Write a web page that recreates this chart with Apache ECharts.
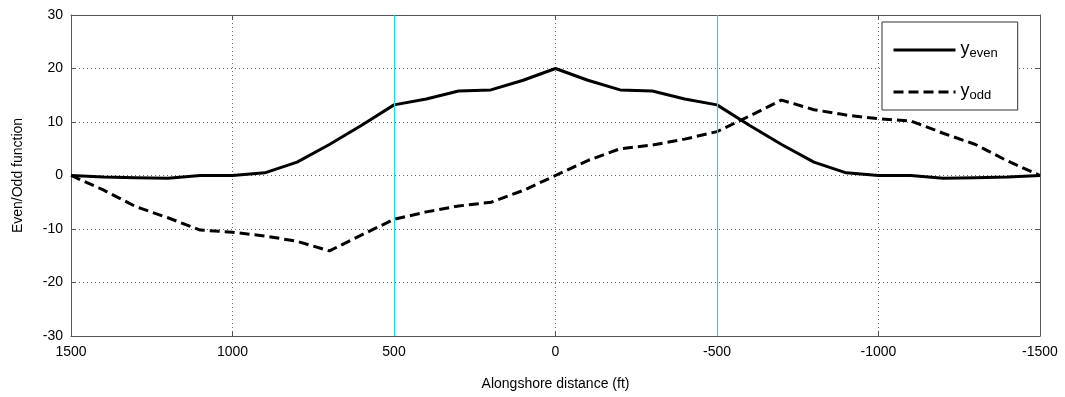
<!DOCTYPE html>
<html>
<head>
<meta charset="utf-8">
<script src="https://cdn.jsdelivr.net/npm/echarts@6/dist/echarts.min.js"></script>
<style>
  html, body { margin: 0; padding: 0; background: #fff; }
  #chart { width: 1065px; height: 397px; }
</style>
</head>
<body>
<div id="chart"></div>
<script>
// alongshore positions (ft), 100 ft step from 1500 to -1500
const distance = [1500, 1400, 1300, 1200, 1100, 1000, 900, 800, 700, 600, 500, 400, 300, 200, 100, 0,
  -100, -200, -300, -400, -500, -600, -700, -800, -900, -1000, -1100, -1200, -1300, -1400, -1500];

const yEven = [0, -0.3, -0.4, -0.5, 0, 0, 0.5, 2.5, 5.8, 9.4, 13.2, 14.3, 15.8, 16, 17.8, 20,
  17.8, 16, 15.8, 14.3, 13.2, 9.4, 5.8, 2.5, 0.5, 0, 0, -0.5, -0.4, -0.3, 0];

const yOdd = [0, -2.7, -5.8, -7.9, -10.2, -10.6, -11.3, -12.3, -14.1, -11.1, -8.2, -6.8, -5.7, -5.0, -2.8, 0,
  2.8, 5.0, 5.7, 6.8, 8.2, 11.1, 14.1, 12.3, 11.3, 10.6, 10.2, 7.9, 5.8, 2.7, 0];

// cyan reference lines
const refLines = [500, -500];

const chart = echarts.init(document.getElementById('chart'));
const font = 'Liberation Sans, Arial, sans-serif';

const pairs = (ys) => distance.map((d, i) => [d, ys[i]]);

const baseX = {
  type: 'value',
  min: -1500,
  max: 1500,
  interval: 500,
  inverse: true
};
const baseY = {
  type: 'value',
  min: -30,
  max: 30,
  interval: 10
};
const axisLine = { show: true, onZero: false, lineStyle: { color: '#555', width: 1 } };
const axisTick = { show: true, inside: true, length: 5, lineStyle: { color: '#555' } };
const gridDots = { show: true, lineStyle: { type: [1, 3], color: '#666' } };

chart.setOption({
  animation: false,
  backgroundColor: '#fff',
  grid: { left: 71, right: 25, top: 15, bottom: 61 },
  legend: {
    orient: 'vertical',
    left: 882,
    top: 22,
    padding: [9, 20, 8, 10],
    itemGap: 13,
    itemWidth: 62,
    itemHeight: 14,
    borderColor: '#333',
    borderWidth: 1,
    backgroundColor: '#fff',
    itemStyle: { opacity: 0 },
    lineStyle: { width: 3 },
    data: ['even', 'odd'],
    formatter: (name) => '{y|y}{s|' + name + '}',
    textStyle: {
      fontFamily: font,
      color: '#000',
      rich: {
        y: { fontSize: 18, fontFamily: font, color: '#000', verticalAlign: 'top', lineHeight: 20 },
        s: { fontSize: 13, fontFamily: font, color: '#000', verticalAlign: 'bottom', lineHeight: 14, padding: [16, 0, 0, 0] }
      }
    }
  },
  xAxis: [
    Object.assign({}, baseX, {
      position: 'bottom',
      name: 'Alongshore distance (ft)',
      nameLocation: 'middle',
      nameGap: 41,
      nameTextStyle: { fontFamily: font, fontSize: 14, color: '#000' },
      axisLine: axisLine,
      axisTick: axisTick,
      axisLabel: { fontFamily: font, fontSize: 14, color: '#000', margin: 9, formatter: (v) => String(v) },
      splitLine: gridDots
    }),
    Object.assign({}, baseX, {
      position: 'top',
      axisLine: axisLine,
      axisTick: axisTick,
      axisLabel: { show: false },
      splitLine: { show: false }
    })
  ],
  yAxis: [
    Object.assign({}, baseY, {
      position: 'left',
      name: 'Even/Odd function',
      nameLocation: 'middle',
      nameGap: 46,
      nameTextStyle: { fontFamily: font, fontSize: 14, color: '#000' },
      axisLine: axisLine,
      axisTick: axisTick,
      axisLabel: { fontFamily: font, fontSize: 14, color: '#000', margin: 8, formatter: (v) => String(v) },
      splitLine: gridDots
    }),
    Object.assign({}, baseY, {
      position: 'right',
      axisLine: axisLine,
      axisTick: axisTick,
      axisLabel: { show: false },
      splitLine: { show: false }
    })
  ],
  series: [
    {
      name: 'even',
      type: 'line',
      symbol: 'none',
      data: pairs(yEven),
      lineStyle: { color: '#000', width: 3 },
      itemStyle: { color: '#000' },
      z: 3,
      markLine: {
        silent: true,
        symbol: 'none',
        label: { show: false },
        lineStyle: { color: '#2ad4dc', width: 1.2, type: 'solid' },
        data: refLines.map((v) => ({ xAxis: v }))
      }
    },
    {
      name: 'odd',
      type: 'line',
      symbol: 'none',
      data: pairs(yOdd),
      lineStyle: { color: '#000', width: 3, type: [10, 5] },
      itemStyle: { color: '#000' },
      z: 3
    }
  ]
});

window.addEventListener('resize', () => chart.resize());
</script>
</body>
</html>
